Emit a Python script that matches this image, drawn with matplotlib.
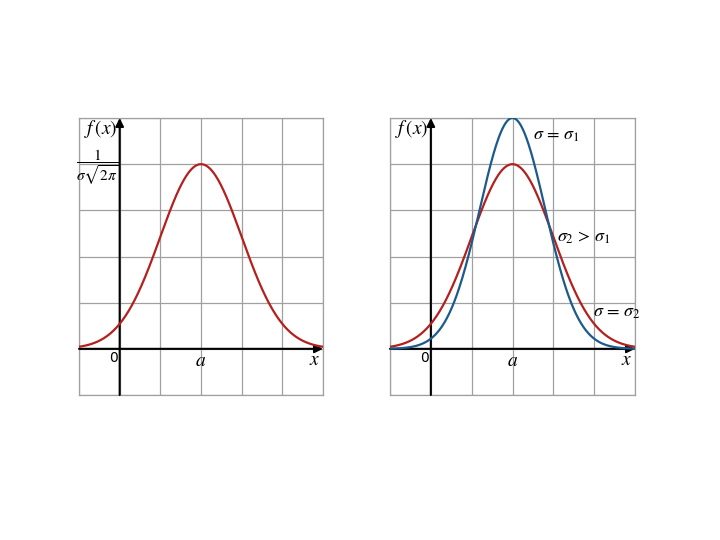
import numpy as np
import matplotlib
matplotlib.use("Agg")
import matplotlib.pyplot as plt

plt.rcParams['mathtext.fontset'] = 'stix'

# curve parameters (grid units)
a = 2.0
sigma1 = 0.8   # narrow curve (blue), peak ~5
sigma2 = 1.0   # wide curve (red), peak ~4
peak2 = 4.0
xlim = (-1, 5)
ylim = (-1, 5)

red = '#b3201e'
blue = '#1c5a8c'


def density(x, s):
    # scaled so that sigma2 gives peak2, same area for all sigma
    return peak2 * sigma2 / s * np.exp(-(x - a) ** 2 / (2 * s ** 2))


def setup(ax):
    ax.set_xlim(*xlim)
    ax.set_ylim(*ylim)
    ax.set_xticks(np.arange(xlim[0], xlim[1] + 1))
    ax.set_yticks(np.arange(ylim[0], ylim[1] + 1))
    ax.tick_params(length=0, labelbottom=False, labelleft=False)
    ax.grid(True, color='#a0a0a0', lw=0.9)
    for sp in ax.spines.values():
        sp.set_color('#a0a0a0')
        sp.set_linewidth(0.9)
    # axes with arrows
    ax.annotate('', xy=(xlim[1], 0), xytext=(xlim[0], 0),
                arrowprops=dict(arrowstyle='-|>', color='black', lw=1.5,
                                mutation_scale=12, shrinkA=0, shrinkB=0))
    ax.annotate('', xy=(0, ylim[1]), xytext=(0, ylim[0]),
                arrowprops=dict(arrowstyle='-|>', color='black', lw=1.5,
                                mutation_scale=12, shrinkA=0, shrinkB=0))
    ax.text(-0.88, 4.77, r'$f\,(x)$', fontsize=14, va='center', ha='left')
    ax.text(-0.15, -0.2, '0', fontsize=10, va='center', ha='center',
            family='DejaVu Sans')
    ax.text(a, -0.25, r'$a$', fontsize=14, va='center', ha='center')
    ax.text(4.8, -0.23, r'$x$', fontsize=14, va='center', ha='center')


fig = plt.figure(figsize=(7.2, 5.4), dpi=100)
ax1 = fig.add_axes([79 / 720, 145 / 540, 244 / 720, 277 / 540])
ax2 = fig.add_axes([390 / 720, 145 / 540, 245 / 720, 277 / 540])

x = np.linspace(xlim[0], xlim[1], 400)

setup(ax1)
ax1.plot(x, density(x, sigma2), color=red, lw=1.6, zorder=3)
ax1.text(-0.54, 3.94, r'$\dfrac{1}{\sigma\sqrt{2\pi}}$', fontsize=11,
         va='center', ha='center')

setup(ax2)
ax2.plot(x, density(x, sigma2), color=red, lw=1.6, zorder=3)
ax2.plot(x, density(x, sigma1), color=blue, lw=1.6, zorder=3)
ax2.text(2.51, 4.64, r'$\sigma\,=\,\sigma_1$', fontsize=13, va='center', ha='left')
ax2.text(3.08, 2.42, r'$\sigma_2\,>\,\sigma_1$', fontsize=13, va='center', ha='left')
ax2.text(3.96, 0.79, r'$\sigma\,=\,\sigma_2$', fontsize=13, va='center', ha='left')

fig.savefig('out.png', dpi=100)
